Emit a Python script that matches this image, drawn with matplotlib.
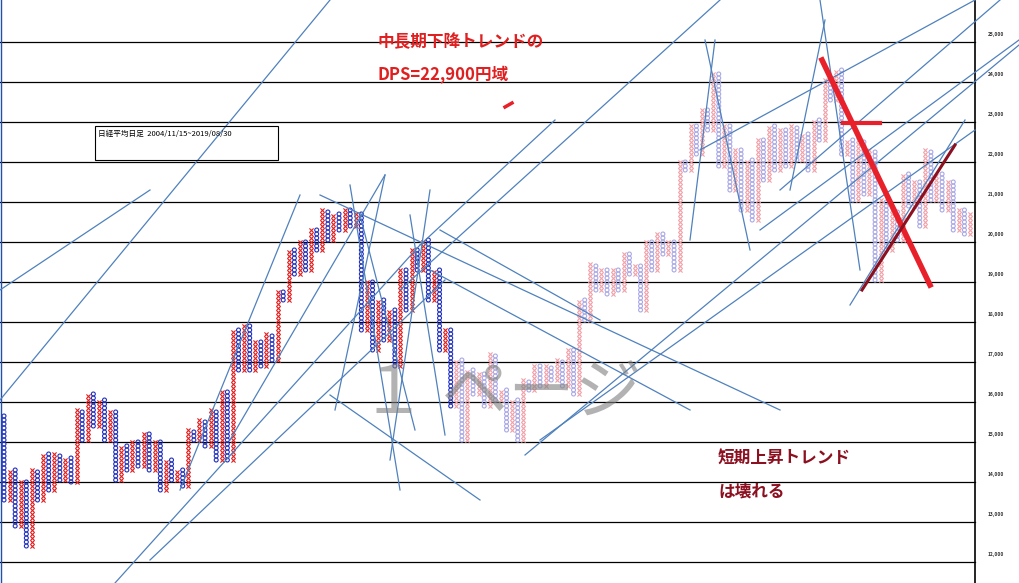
import matplotlib
matplotlib.use("Agg")
import matplotlib.pyplot as plt
import numpy as np

plt.rcParams['font.family'] = ['Noto Sans CJK JP', 'DejaVu Sans']

# Point & figure column turning prices (alternating falls / rises)
turns_a = [15700, 13550, 14300, 12900, 14050, 12400, 14300, 13550, 14700, 13800, 14700, 14050,
           14600, 14000, 15800, 15050, 16200, 15400, 16050, 15050, 15800, 14050, 14900, 14300,
           15050, 14400, 15200, 14300, 15050, 13800, 14550, 14050, 14300, 13900, 15300, 15050,
           15550, 14900, 15800, 14550, 16300, 14550, 17800, 16800, 17900, 16800, 17550, 16900,
           17700, 17050, 18800, 18550, 19800, 19200, 20050, 19300, 20300, 19800, 20800, 20050,
           20700, 20300, 20800, 20400, 20700, 17800, 19050, 17300, 18550, 17550, 18300, 16900,
           19300, 18300, 19800, 19300, 20050, 18550, 19300, 17300, 17800, 15900]
turns_b = [17050, 15050, 16800, 16200, 16700, 15900, 17200, 16050, 16300, 15300, 16050, 15050,
           16550, 16300, 16900, 16400, 16900, 16550, 17050, 16400, 17300, 16200, 18550, 18050,
           19450, 18800, 19300, 18700, 19300, 18800, 19700, 19200, 19450, 18300, 20050, 19300,
           20200, 19700, 20050, 19300, 22050, 21800, 22900, 22200, 23300, 22800, 24200, 21900,
           22900, 21300, 22300, 20800, 22050, 20550, 22550, 21550, 22900, 21800, 22800, 21900,
           22900, 22050, 22700, 21800, 23050, 22550, 24050, 23550, 24300, 22200, 22550, 21050,
           22550, 21200, 22300, 19050, 21050, 19800, 20800, 20050, 21700, 20900, 21550, 20400,
           22300, 21050, 21700, 20800, 21550, 20300, 20800, 20200, 20700]
box = 100
grid_prices = list(range(25000, 11999, -1000))
title_box = "日経平均日足  2004/11/15~2019/08/30"

# annotation lines in pixel space (x, y) pairs
blue_lines = [((0, 400), (330, 0)), ((115, 583), (420, 245)), ((150, 560), (445, 280)),
              ((180, 490), (300, 195)), ((230, 440), (385, 175)), ((320, 195), (780, 410)),
              ((350, 185), (400, 490)), ((360, 215), (415, 430)), ((385, 175), (335, 410)),
              ((410, 215), (445, 435)), ((430, 190), (390, 460)), ((330, 395), (480, 500)),
              ((420, 245), (555, 120)), ((400, 290), (720, 0)), ((430, 270), (690, 410)),
              ((525, 455), (1019, 45)), ((540, 440), (975, 130)), ((705, 40), (750, 250)),
              ((715, 40), (690, 240)), ((700, 150), (975, 0)), ((760, 230), (1019, 40)),
              ((780, 190), (1000, 0)), ((820, 0), (860, 270)), ((850, 305), (965, 120)),
              ((825, 20), (790, 190)), ((0, 290), (150, 190)), ((440, 230), (600, 320))]

fig = plt.figure(figsize=(10.19, 5.83), dpi=100)
ax = fig.add_axes([0, 0, 1, 1])
ax.set_xlim(0, 1019)
ax.set_ylim(583, 0)
ax.axis('off')

def py(p):
    return (26050 - p) / 25.0

for g in grid_prices:
    ax.plot([0, 975], [py(g), py(g)], color='black', lw=0.9)
    ax.text(988, py(g) - 6, f"{g:,}", fontsize=3.5, color='#333333', fontweight='bold')
ax.plot([975, 975], [0, 583], color='black', lw=1.2)
ax.plot([1, 1], [0, 583], color='#2050b0', lw=1)

turns = turns_a + turns_b
n = len(turns) - 1
xs = np.linspace(4, 970, n)
fade_from = len(turns_a) - 1
for i in range(n):
    a, b = turns[i], turns[i + 1]
    lo, hi = min(a, b), max(a, b)
    vals = np.arange(lo, hi + 1, box)
    faded = i >= fade_from
    if b > a:
        ax.scatter([xs[i]] * len(vals), [py(v) for v in vals], marker='x', s=9, lw=0.8,
                   color='#f0a0a8' if faded else '#e02020', zorder=3)
    else:
        ax.scatter([xs[i]] * len(vals), [py(v) for v in vals], marker='o', s=8, lw=0.8,
                   facecolors='none', edgecolors='#a8a8e8' if faded else '#2030c0', zorder=3)

for (x0, y0), (x1, y1) in blue_lines:
    ax.plot([x0, x1], [y0, y1], color='#4f81bd', lw=0.9, zorder=4)

ax.plot([822, 930], [60, 285], color='#e8202a', lw=4, zorder=5)
ax.plot([843, 880], [123, 123], color='#e8202a', lw=3, zorder=5)
ax.plot([862, 955], [290, 145], color='#8b1020', lw=2.2, zorder=5)
ax.plot([505, 512], [107, 103], color='#e8202a', lw=2.5, zorder=5)

ax.add_patch(plt.Rectangle((95, 126), 183, 34, fill=False, ec='black', lw=0.8, zorder=6))
ax.text(98, 134, title_box, fontsize=5.5, va='center', zorder=6)

ax.text(378, 42, "中長期下降トレンドの", fontsize=12, color='#e02020', fontweight='bold', va='center')
ax.text(378, 75, "DPS=22,900円域", fontsize=12, color='#e02020', fontweight='bold', va='center')
ax.text(718, 458, "短期上昇トレンド", fontsize=12, color='#8b1020', fontweight='bold', va='center')
ax.text(718, 492, "は壊れる", fontsize=12, color='#8b1020', fontweight='bold', va='center')
ax.text(360, 395, "１ ページ", fontsize=48, color='#808080', alpha=0.6, va='center', zorder=7)

fig.savefig("out.png", dpi=100)
